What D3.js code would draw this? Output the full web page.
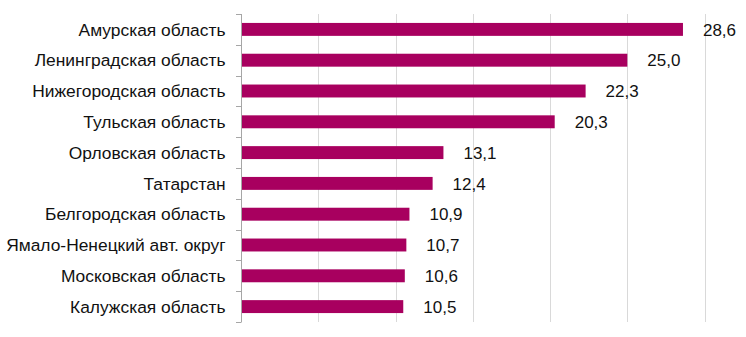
<!DOCTYPE html>
<html><head><meta charset="utf-8">
<script src="https://cdn.jsdelivr.net/npm/d3@7/dist/d3.min.js"></script>
<style>body{margin:0;background:#fff}svg{display:block}text{font-family:"Liberation Sans",Arial,sans-serif}</style>
</head><body><svg id="c" width="746" height="337"></svg>
<script>
const categories = ["Амурская область","Ленинградская область","Нижегородская область","Тульская область","Орловская область","Татарстан","Белгородская область","Ямало-Ненецкий авт. округ","Московская область","Калужская область"];
const values = [28.6,25.0,22.3,20.3,13.1,12.4,10.9,10.7,10.6,10.5];
const gridTicks = [5,10,15,20,25,30];

const svg = d3.select("#c");
const x = d3.scaleLinear().domain([0,30]).range([241,704.6]);
const y = d3.scaleBand().domain(categories).range([14,322]).paddingInner(0.58).paddingOuter(0.29);
const yb = d3.scaleBand().domain(categories).range([14,322]);

svg.append("g").selectAll("line").data(gridTicks).join("line")
  .attr("x1",d=>Math.round(x(d))+0.5).attr("x2",d=>Math.round(x(d))+0.5)
  .attr("y1",14).attr("y2",322).attr("stroke","#d9d9d9").attr("stroke-width",1);

svg.append("g").selectAll("rect").data(values).join("rect")
  .attr("x",x(0)).attr("y",(d,i)=>y(categories[i]))
  .attr("width",d=>x(d)-x(0)).attr("height",y.bandwidth())
  .attr("fill","#a8005f");

const ax = svg.append("g").attr("stroke","#a6a6a6");
ax.append("line").attr("x1",241.5).attr("x2",241.5).attr("y1",14).attr("y2",322);
const bounds = categories.map(c=>yb(c)).concat([322]);
ax.selectAll("line.t").data(bounds).join("line").attr("class","t")
  .attr("x1",236).attr("x2",241.5).attr("y1",d=>Math.round(d)+0.5).attr("y2",d=>Math.round(d)+0.5);

svg.append("g").selectAll("text").data(categories).join("text")
  .attr("x",225.5).attr("y",d=>yb(d)+yb.bandwidth()/2).attr("dy","0.36em")
  .attr("text-anchor","end").attr("font-size",17.4).attr("fill","#111").text(d=>d);

svg.append("g").selectAll("text").data(values).join("text")
  .attr("x",d=>x(d)+20).attr("y",(d,i)=>yb(categories[i])+yb.bandwidth()/2).attr("dy","0.36em")
  .attr("font-size",17).attr("fill","#111").text(d=>d.toFixed(1).replace(".",","));
</script></body></html>
